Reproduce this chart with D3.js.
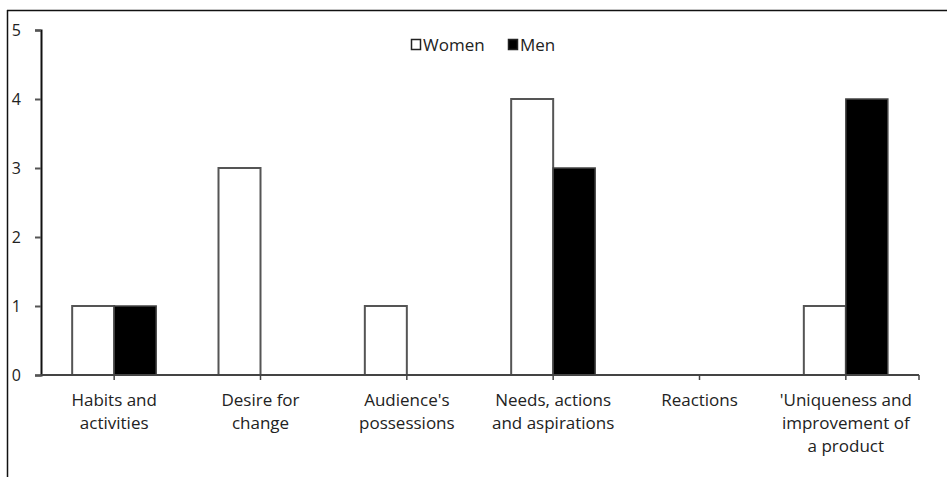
<!DOCTYPE html>
<html>
<head>
<meta charset="utf-8">
<script src="https://cdn.jsdelivr.net/npm/d3@7"></script>
<style>
  body { margin: 0; background: #fff; }
  text { font-family: "Open Sans", "DejaVu Sans", sans-serif; fill: #222; }
</style>
</head>
<body>
<svg id="chart"></svg>
<script>
const categories = [
  ["Habits and", "activities"],
  ["Desire for", "change"],
  ["Audience's", "possessions"],
  ["Needs, actions", "and aspirations"],
  ["Reactions"],
  ["'Uniqueness and", "improvement of", "a product"]
];
const women = [1, 3, 1, 4, 0, 1];
const men = [1, 0, 0, 3, 0, 4];
const yTicks = [0, 1, 2, 3, 4, 5];
const seriesNames = ["Women", "Men"];

const width = 947;
const height = 477;
const margin = { top: 30, right: 28, bottom: 102, left: 41 };

const svg = d3.select("#chart").attr("width", width).attr("height", height);

// frame (top and left edges only)
svg.append("line").attr("x1", 7).attr("x2", width).attr("y1", 10.5).attr("y2", 10.5)
  .attr("stroke", "#111").attr("stroke-width", 1.5);
svg.append("line").attr("x1", 7.5).attr("x2", 7.5).attr("y1", 10).attr("y2", height)
  .attr("stroke", "#111").attr("stroke-width", 1.5);

const idx = categories.map((d, i) => i);
const x = d3.scaleBand(idx, [margin.left, width - margin.right]).padding(0);
const y = d3.scaleLinear([0, 5], [height - margin.bottom, margin.top]);
const barW = x.bandwidth() * 0.287;

const data = idx.map(i => ({ i, women: women[i], men: men[i] }));

// bars
svg.append("g").selectAll("rect.w")
  .data(data)
  .join("rect")
  .attr("class", "w")
  .attr("x", d => x(d.i) + x.bandwidth() / 2 - barW)
  .attr("width", barW)
  .attr("y", d => y(d.women))
  .attr("height", d => y(0) - y(d.women))
  .attr("fill", "#fff")
  .attr("stroke", "#555")
  .attr("stroke-width", 2);

svg.append("g").selectAll("rect.m")
  .data(data)
  .join("rect")
  .attr("class", "m")
  .attr("x", d => x(d.i) + x.bandwidth() / 2)
  .attr("width", barW)
  .attr("y", d => y(d.men))
  .attr("height", d => y(0) - y(d.men))
  .attr("fill", "#000")
  .attr("stroke", "#444")
  .attr("stroke-width", 1.5);

// y axis
const yAxis = d3.axisLeft(y).tickValues(yTicks).tickFormat(d3.format("d")).tickSize(6).tickPadding(14);
const gy = svg.append("g")
  .attr("transform", `translate(${margin.left},0)`)
  .call(yAxis);
gy.select(".domain").attr("stroke", "#111").attr("stroke-width", 2);
gy.selectAll(".tick line").attr("stroke", "#555").attr("stroke-width", 2);
gy.selectAll(".tick text").style("font-size", "16px").attr("fill", "#333")
  .style("font-family", "'Open Sans', sans-serif");

// x axis
const gx = svg.append("g").attr("transform", `translate(0,${y(0)})`);
gx.append("line")
  .attr("x1", margin.left).attr("x2", width - margin.right)
  .attr("stroke", "#444").attr("stroke-width", 2);
gx.selectAll("line.tick")
  .data(idx.map(i => x(i) + x.bandwidth() / 2).concat([width - margin.right]))
  .join("line")
  .attr("class", "tick")
  .attr("x1", d => d).attr("x2", d => d)
  .attr("y1", 0).attr("y2", 5)
  .attr("stroke", "#444").attr("stroke-width", 1.5);

gx.selectAll("text.cat")
  .data(data)
  .join("text")
  .attr("class", "cat")
  .attr("text-anchor", "middle")
  .attr("transform", d => `translate(${x(d.i) + x.bandwidth() / 2},31)`)
  .style("font-size", "17px")
  .attr("fill", "#333")
  .selectAll("tspan")
  .data(d => categories[d.i])
  .join("tspan")
  .attr("x", 0)
  .attr("y", (t, j) => j * 23)
  .text(t => t);

// legend
const legend = svg.append("g").attr("transform", "translate(411,45)");
const lx = [0, 97];
seriesNames.forEach((name, i) => {
  legend.append("rect")
    .attr("x", lx[i] + 0.5).attr("y", -5.5)
    .attr("width", 9).attr("height", 10)
    .attr("fill", i === 0 ? "#fff" : "#000")
    .attr("stroke", "#222").attr("stroke-width", 1.5);
  legend.append("text")
    .attr("x", lx[i] + 12).attr("y", 0).attr("dy", "0.36em")
    .style("font-size", "17px").attr("fill", "#333")
    .text(name);
});
</script>
</body>
</html>
